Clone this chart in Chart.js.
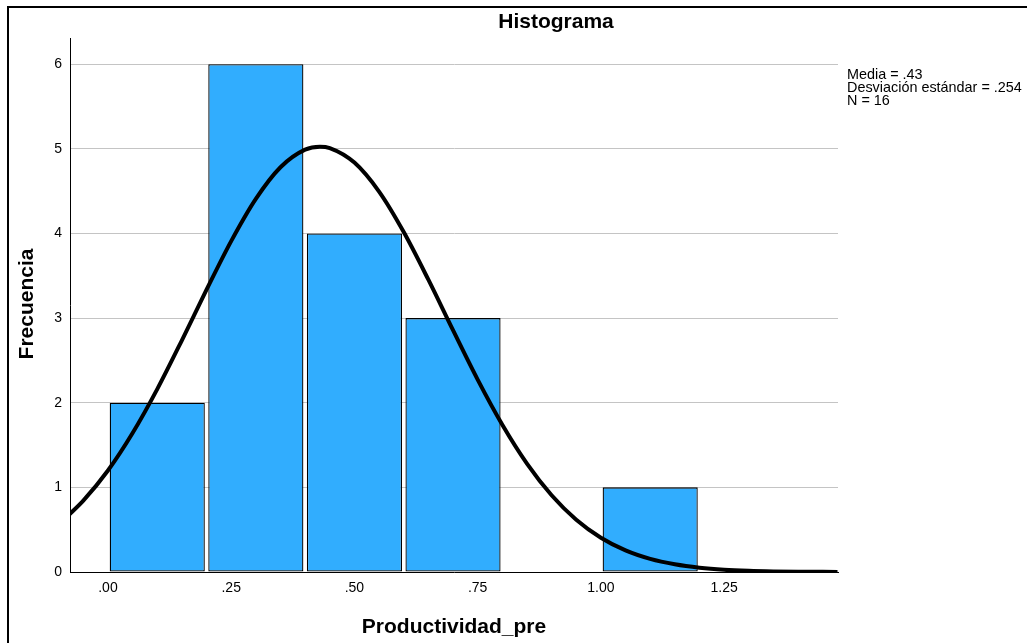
<!DOCTYPE html>
<html>
<head>
<meta charset="utf-8">
<title>Histograma</title>
<script src="https://cdn.jsdelivr.net/npm/chart.js@4"></script>
<style>
  html, body { margin: 0; padding: 0; background: #ffffff; }
  #wrap { width: 1027px; height: 643px; position: relative; }
</style>
</head>
<body>
<div id="wrap"><canvas id="histograma" width="1027" height="643"></canvas></div>
<script>
// centro de cada intervalo (ancho .20) y su frecuencia
var centros = [0.1, 0.3, 0.5, 0.7, 0.9, 1.1];
var frecuencias = [2, 6, 4, 3, null, 1];

// curva normal (Media = .43, D.E. = .254, N = 16) leida punto a punto
var curvaX = [-0.08, -0.05, 0.00, 0.05, 0.10, 0.15, 0.20, 0.25, 0.30, 0.35, 0.40, 0.43,
              0.45, 0.50, 0.55, 0.60, 0.65, 0.70, 0.75, 0.80, 0.85, 0.90, 0.95, 1.00,
              1.05, 1.10, 1.15, 1.20, 1.25, 1.30, 1.35, 1.40, 1.45, 1.48];
var curvaY = [0.670, 0.843, 1.199, 1.642, 2.161, 2.738, 3.336, 3.910, 4.409, 4.783, 4.991, 5.026,
              5.010, 4.838, 4.495, 4.017, 3.454, 2.857, 2.273, 1.740, 1.281, 0.907, 0.618, 0.405,
              0.255, 0.155, 0.091, 0.051, 0.027, 0.014, 0.007, 0.003, 0.002, 0.001];

var ticksX = [0, 0.25, 0.5, 0.75, 1.0, 1.25];
var ticksY = [0, 1, 2, 3, 4, 5, 6];
var estadisticos = ['Media = .43', 'Desviación estándar = .254', 'N = 16'];

var fuente = '"Liberation Sans", Arial, sans-serif';

function formatoX(v) {
    var s = v.toFixed(2);
    return s.indexOf('0.') === 0 ? s.substring(1) : s;
}

// textos fijos: titulo, ejes, estadisticos y marco
var textos = {
    id: 'textos',
    afterDraw: function(chart) {
        var ctx = chart.ctx;
        var area = chart.chartArea;
        ctx.save();
        ctx.fillStyle = '#000';
        ctx.textBaseline = 'alphabetic';
        ctx.textAlign = 'center';
        ctx.font = 'bold 21px ' + fuente;
        ctx.fillText('Histograma', 556, 28);

        ctx.fillText('Productividad_pre', (area.left + area.right) / 2, 633);

        ctx.save();
        ctx.translate(33, 304);
        ctx.rotate(-Math.PI / 2);
        ctx.fillText('Frecuencia', 0, 0);
        ctx.restore();

        ctx.textAlign = 'left';
        ctx.font = '14.4px ' + fuente;
        estadisticos.forEach(function(t, i) {
            ctx.fillText(t, 847, 79 + i * 13);
        });

        // marco exterior
        ctx.strokeStyle = '#000';
        ctx.lineWidth = 2;
        ctx.beginPath();
        ctx.moveTo(8, 643);
        ctx.lineTo(8, 7);
        ctx.lineTo(1027, 7);
        ctx.stroke();
        ctx.restore();
    }
};

var grafico = new Chart(document.getElementById('histograma'), {
    type: 'bar',
    data: {
        datasets: [{
            type: 'line',
            label: 'Normal',
            data: curvaX.map(function(x, i) { return { x: x, y: curvaY[i] }; }),
            borderColor: '#000000',
            borderWidth: 4,
            pointRadius: 0,
            tension: 0.4,
            cubicInterpolationMode: 'monotone',
            fill: false,
            order: 0
        }, {
            label: 'Frecuencia',
            data: centros.map(function(x, i) { return { x: x, y: frecuencias[i] }; }),
            backgroundColor: '#31adfe',
            borderColor: '#000000',
            borderWidth: 1.3,
            borderSkipped: false,
            categoryPercentage: 1.0,
            barPercentage: 0.965,
            order: 1
        }]
    },
    options: {
        responsive: false,
        animation: false,
        layout: { padding: { left: 40, top: 38, right: 189, bottom: 0 } },
        plugins: {
            legend: { display: false },
            tooltip: { enabled: false }
        },
        scales: {
            x: {
                type: 'linear',
                min: -0.077,
                max: 1.481,
                offset: false,
                afterFit: function(scale) { scale.height = 71; },
                afterBuildTicks: function(scale) {
                    scale.ticks = ticksX.map(function(v) { return { value: v }; });
                },
                grid: { display: false, drawTicks: false },
                border: { display: true, color: '#000000', width: 1 },
                ticks: {
                    autoSkip: false,
                    maxRotation: 0,
                    padding: 8,
                    color: '#000',
                    font: { family: fuente, size: 14 },
                    callback: function(v) { return formatoX(v); }
                }
            },
            y: {
                min: 0,
                max: 6.31,
                afterFit: function(scale) { scale.width = 30; },
                afterBuildTicks: function(scale) {
                    scale.ticks = ticksY.map(function(v) { return { value: v }; });
                },
                grid: {
                    color: '#c4c4c4',
                    lineWidth: 1,
                    drawTicks: false
                },
                border: { display: true, color: '#000000', width: 1 },
                ticks: {
                    padding: 8,
                    color: '#000',
                    font: { family: fuente, size: 14 }
                }
            }
        }
    },
    plugins: [textos]
});
</script>
</body>
</html>
